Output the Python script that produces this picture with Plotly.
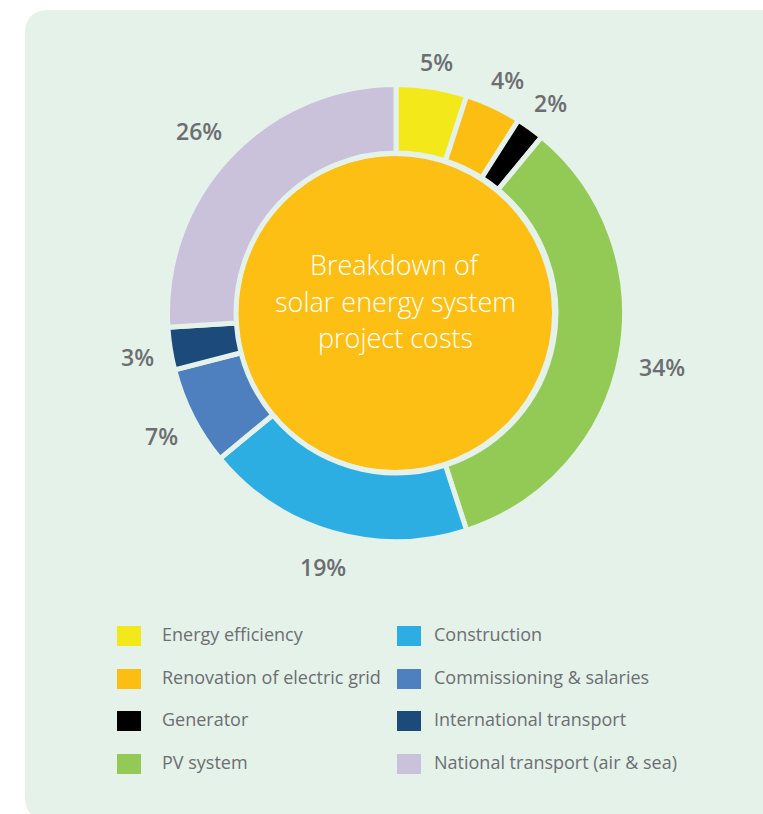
import math
import plotly.graph_objects as go

# ---- data ----
categories = ["Energy efficiency", "Renovation of electric grid", "Generator", "PV system",
              "Construction", "Commissioning & salaries", "International transport",
              "National transport (air & sea)"]
values = [5, 4, 2, 34, 19, 7, 3, 26]
colors = ["#f3e91a", "#fdbe14", "#000000", "#93c955", "#2daee2", "#4e80bf", "#1b4a7b", "#c9c2da"]
center_lines = ["Breakdown of", "solar energy system", "project costs"]

# ---- layout constants ----
W, H = 763, 814
BG = "#e4f2ea"
TXT = "#6d6e71"
cx, cy = 396, 313          # pie centre (px)
R = 228.5                  # pie outer radius (px)
HOLE = 0.70
R_IN_CIRCLE = 157          # orange disc radius (px)

def px(x):
    return x / W

def py(y):
    return 1 - y / H

fig = go.Figure()
fig.add_trace(go.Pie(
    labels=categories, values=values, sort=False, direction="clockwise", rotation=0,
    hole=HOLE, marker=dict(colors=colors, line=dict(color=BG, width=5)),
    textinfo="none", hoverinfo="label+percent", showlegend=False,
    domain=dict(x=[px(cx - R), px(cx + R)], y=[py(cy + R), py(cy - R)]),
))

shapes = []
# rounded background panel
x0, y0, x1, y1, rr = 25, 10, 800, 820, 24
path = (f"M {px(x0+rr)},{py(y0)} L {px(x1)},{py(y0)} L {px(x1)},{py(y1)} L {px(x0+rr)},{py(y1)} "
        f"Q {px(x0)},{py(y1)} {px(x0)},{py(y1-rr)} L {px(x0)},{py(y0+rr)} "
        f"Q {px(x0)},{py(y0)} {px(x0+rr)},{py(y0)} Z")
shapes.append(dict(type="path", xref="paper", yref="paper", path=path,
                   fillcolor=BG, line=dict(width=0), layer="below"))
# orange centre disc
shapes.append(dict(type="circle", xref="paper", yref="paper",
                   x0=px(cx - 1 - R_IN_CIRCLE), x1=px(cx - 1 + R_IN_CIRCLE),
                   y0=py(cy + R_IN_CIRCLE), y1=py(cy - R_IN_CIRCLE),
                   fillcolor="#fdbf13", line=dict(width=0), layer="below"))

annotations = []
# percentage labels outside the ring
total = sum(values)
cum = 0
for v in values:
    mid = (cum + v / 2) / total
    cum += v
    th = 2 * math.pi * mid
    label = f"{round(100 * v / total)}%"
    hw = 8.5 * len(label)
    r = 243 + 12 * abs(math.cos(th)) + hw * abs(math.sin(th))
    x = cx + r * math.sin(th)
    y = cy + 3 - r * math.cos(th)
    annotations.append(dict(x=px(x), y=py(y), xref="paper", yref="paper", text=label,
                            showarrow=False, xanchor="center", yanchor="middle",
                            font=dict(family="Open Sans", size=23, color=TXT, weight=600)))

# centre text
for i, line in enumerate(center_lines):
    annotations.append(dict(x=px(cx - 1), y=py(265 + 36.5 * i), xref="paper", yref="paper",
                            text=line, showarrow=False, xanchor="center", yanchor="middle",
                            font=dict(family="Open Sans", size=27, color="white", weight=300)))

# manual two-column legend
col_x = [117, 397]
text_x = [160, 432]
row_y = [634, 677, 719, 762]
n_rows = len(row_y)
for i, (name, col) in enumerate(zip(categories, colors)):
    c, rw = divmod(i, n_rows)
    sx, sy = col_x[c], row_y[rw] + 2
    shapes.append(dict(type="rect", xref="paper", yref="paper",
                       x0=px(sx), x1=px(sx + 24), y0=py(sy + 10), y1=py(sy - 10),
                       fillcolor=col, line=dict(width=0)))
    annotations.append(dict(x=px(text_x[c]), y=py(row_y[rw]), xref="paper", yref="paper",
                            text=name, showarrow=False, xanchor="left", yanchor="middle",
                            font=dict(family="Open Sans", size=18, color=TXT)))

fig.update_layout(
    width=W, height=H, margin=dict(l=0, r=0, t=0, b=0),
    paper_bgcolor="white", plot_bgcolor="white",
    shapes=shapes, annotations=annotations, showlegend=False,
)
fig.write_html("out.html")
